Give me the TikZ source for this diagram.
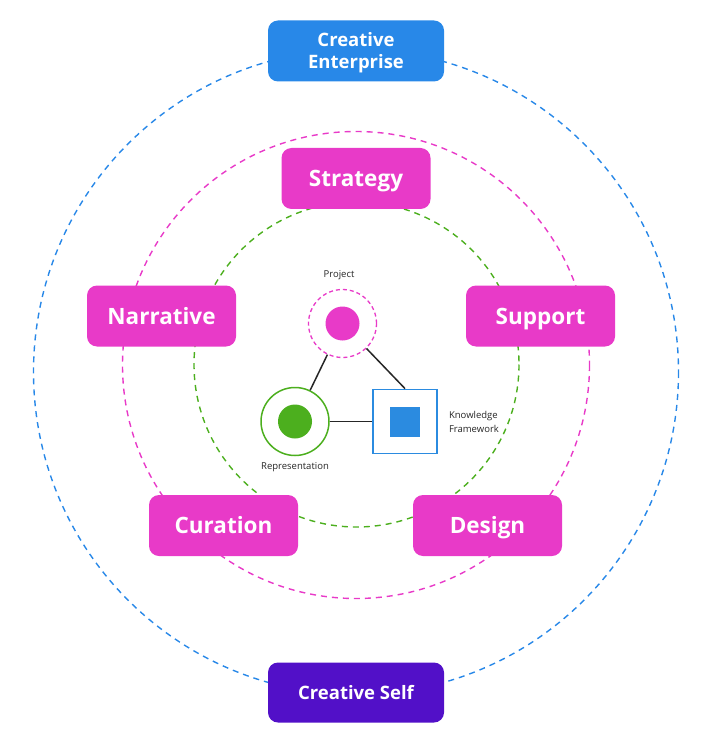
\documentclass[tikz,border=0pt]{standalone}
\usepackage{fontspec}
\usetikzlibrary{calc}
\setmainfont{Open Sans}
\definecolor{cpink}{HTML}{E83AC8}
\definecolor{cblue}{HTML}{2888E8}
\definecolor{cpurple}{HTML}{5210C8}
\definecolor{cgreen}{HTML}{4CAF1E}
\definecolor{kfblue}{HTML}{2B8BE0}
\begin{document}
\begin{tikzpicture}[x=1pt,y=-1pt,
  bigbox/.style={rounded corners=10pt, fill=cpink, text=white, minimum width=149pt, minimum height=61pt, text height=16pt, text depth=0pt, font=\bfseries\fontsize{22.5}{26}\selectfont},
  outerbox/.style={rounded corners=10pt, text=white, minimum width=176pt, minimum height=61pt, align=center, font=\bfseries\fontsize{18.5}{22}\selectfont},
  ring/.style={dashed, line width=1.4pt, dash pattern=on 6pt off 5pt},
  small/.style={font=\fontsize{9.5}{13.5}\selectfont, text=black!85},
  link/.style={line width=1.5pt, black!85}
]
\useasboundingbox (0,0) rectangle (717,743);
% rings
\draw[ring, cblue] (356,372) circle (322.5);
\draw[ring, cpink] (356,365) circle (233.5);
\draw[ring, cgreen] (356.5,364.5) circle (162.5);
% boxes
\node[outerbox, fill=cblue, text height=35.2pt, text depth=0pt] (ent) at (356,51) {Creative\\Enterprise};
\node[outerbox, fill=cpurple, minimum height=60pt, text height=13.2pt, text depth=0pt] (self) at (356,692.5) {Creative Self};
\node[bigbox] (strat) at (356,178.5) {Strategy};
\node[bigbox] (narr) at (161.5,316) {Narrative};
\node[bigbox] (supp) at (540.5,316) {Support};
\node[bigbox] (cur) at (223.5,525.5) {Curation};
\node[bigbox] (des) at (487.5,525.5) {Design};
% center
\node[circle, draw=cpink, dashed, dash pattern=on 4pt off 3pt, line width=1.3pt, fill=white, minimum size=68pt, inner sep=0pt] (proj) at (342.5,323.5) {};
\fill[cpink] (proj) circle (17);
\node[circle, draw=cgreen, line width=1.5pt, fill=white, minimum size=68pt, inner sep=0pt] (rep) at (295,421.5) {};
\fill[cgreen] (rep) circle (17);
\node[draw=kfblue, line width=1.8pt, fill=white, minimum size=64pt, inner sep=0pt] (kf) at (405,421.5) {};
\fill[kfblue] ($(kf)+(-15,-15)$) rectangle ($(kf)+(15,15)$);
\draw[link] (proj) -- (rep);
\draw[link] (proj) -- (kf.north);
\draw[link] (rep) -- (kf);
\node[small] (lproj) at (339,275) {Project};
\node[small] (lrep) at (295,467.5) {Representation};
\node[small, anchor=west, align=left] (lkf) at (445.5,422) {Knowledge\\Framework};
\end{tikzpicture}
\end{document}
